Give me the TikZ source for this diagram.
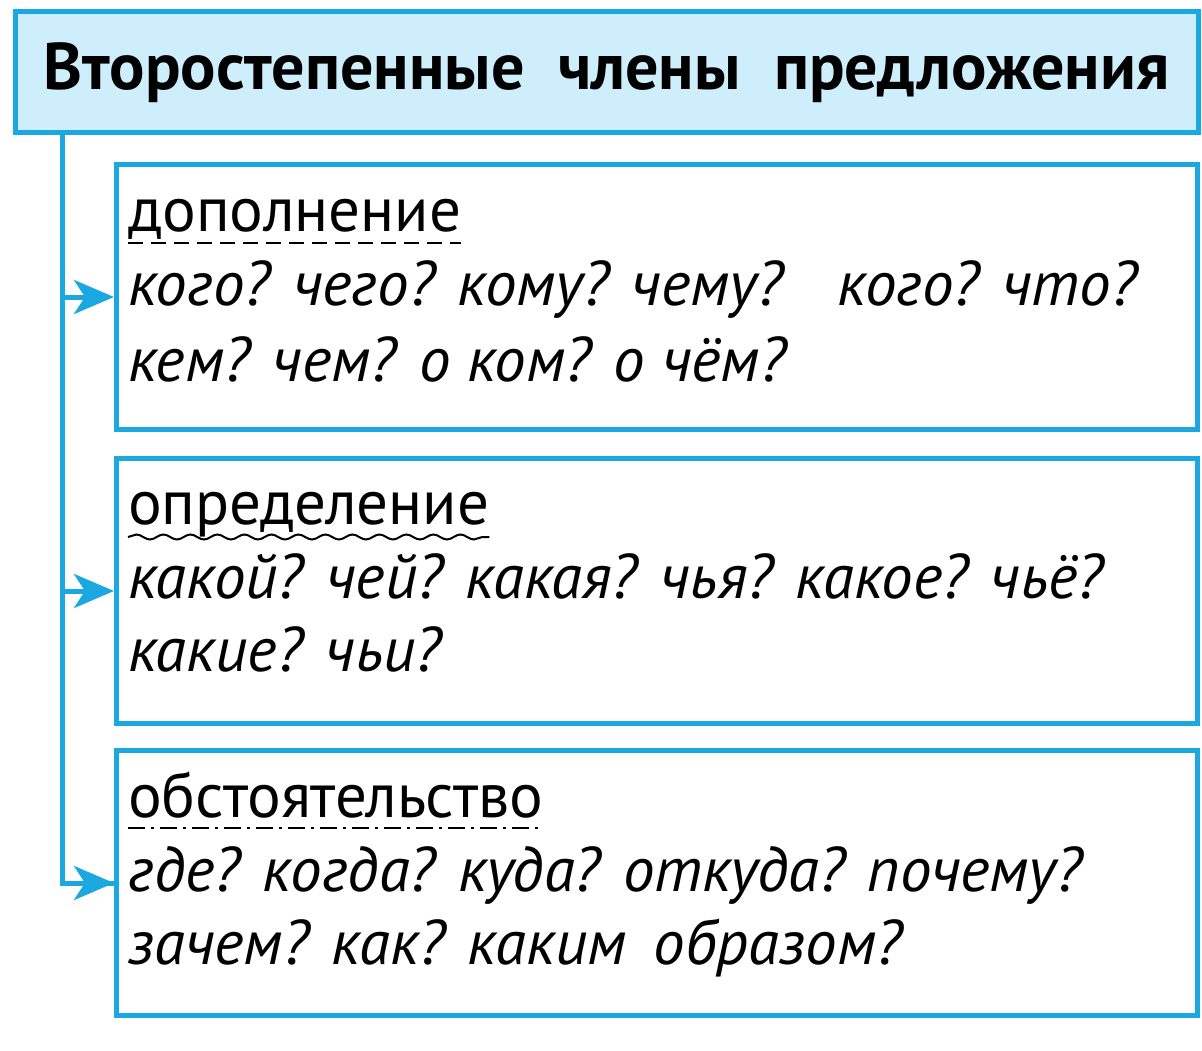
\documentclass[tikz,border=0pt]{standalone}
\usepackage{fontspec}
\setmainfont{PT Sans}
\usetikzlibrary{arrows.meta, decorations.pathmorphing}
\definecolor{frame}{RGB}{27,168,224}
\definecolor{titlefill}{RGB}{206,238,251}

\begin{document}
\begin{tikzpicture}[x=1pt, y=-1pt,
    titlebox/.style = {draw=frame, fill=titlefill, line width=5pt, minimum width=1183pt, minimum height=121pt, inner sep=0pt},
    box/.style = {draw=frame, line width=5pt, minimum width=1081pt, minimum height=265pt, anchor=north west, inner sep=0pt},
    head/.style = {anchor=base west, inner sep=0pt, font=\fontsize{63}{66}\selectfont},
    ask/.style = {anchor=base west, inner sep=0pt, font=\fontsize{63}{66}\selectfont\itshape},
    link/.style = {draw=frame, line width=5pt},
    pointer/.style = {-{Stealth[length=40pt, width=34pt, inset=11pt]}},
    uline/.style = {line width=2pt}]
    \useasboundingbox (0,0) rectangle (1202,1051);
    % title
    \node[titlebox] (title) at (606.5,72.5) {\fontsize{66}{70}\selectfont\bfseries\raisebox{-4pt}{Второстепенные\ \ члены\ \ предложения}};
    % boxes
    \node[box] (dop) at (114,162) {};
    \node[box] (opr) at (114,456) {};
    \node[box] (obs) at (114,748) {};
    % box texts
    \node[head] (dop1) at (128,232) {дополнение};
    \node[ask] (dop2) at (128,305) {кого? чего? кому? чему?\hspace{0.5em} кого? что?};
    \node[ask] (dop3) at (128,381) {кем? чем? о ком? о чём?};
    \node[head] (opr1) at (128,524) {определение};
    \node[ask] (opr2) at (128,598) {какой? чей? какая? чья? какое? чьё?};
    \node[ask] (opr3) at (128,671) {какие? чьи?};
    \node[head] (obs1) at (128,817) {обстоятельство};
    \node[ask] (obs2) at (128,891) {где? когда? куда? откуда? почему?};
    \node[ask] (obs3) at (128,964) {зачем? как? каким\, образом?};
    % underlines
    \draw[uline, dash pattern=on 15pt off 8pt] ([yshift=-11pt]dop1.base west) -- ([yshift=-11pt]dop1.base east);
    \draw[uline, decorate, decoration={snake, amplitude=2.5pt, segment length=27pt}] ([yshift=-13pt]opr1.base west) -- ([yshift=-13pt]opr1.base east);
    \draw[uline, dash pattern=on 17pt off 6pt on 3pt off 6pt] ([yshift=-11pt]obs1.base west) -- ([yshift=-11pt]obs1.base east);
    % links
    \coordinate (spine) at (62,133);
    \draw[link] (spine) |- (obs.west);
    \draw[link, pointer] (spine |- dop.west) -- (dop.west);
    \draw[link, pointer] (spine |- opr.west) -- (opr.west);
    \draw[link, pointer] (spine |- obs.west) -- (obs.west);
\end{tikzpicture}
\end{document}
